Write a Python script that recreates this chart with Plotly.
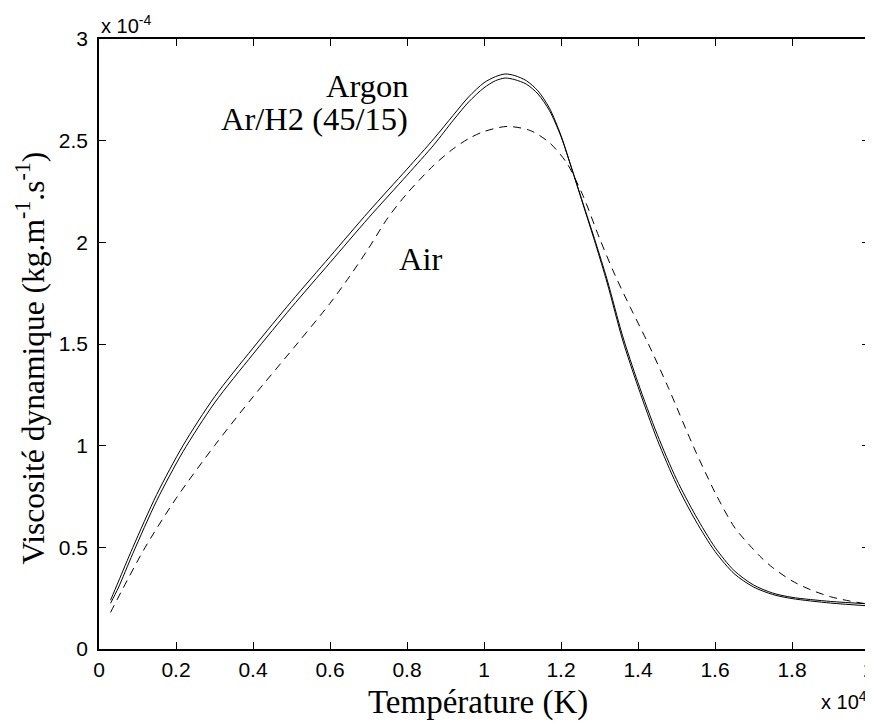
import plotly.graph_objects as go

# Temperature in units of 1e4 K, viscosity in units of 1e-4 kg/m/s
argon_T = [0.03, 0.05, 0.088, 0.15, 0.218, 0.30, 0.40, 0.50, 0.60, 0.70, 0.80, 0.87,
           0.92, 0.96, 1.00, 1.03, 1.055, 1.08, 1.11, 1.14, 1.17, 1.20, 1.23, 1.26,
           1.29, 1.32, 1.36, 1.40, 1.45, 1.50, 1.55, 1.60, 1.65, 1.70, 1.75, 1.80,
           1.90, 2.00]
argon_mu = [0.24, 0.33, 0.50, 0.76, 1.00, 1.24, 1.48, 1.71, 1.93, 2.15, 2.36, 2.51,
            2.625, 2.715, 2.785, 2.815, 2.828, 2.82, 2.795, 2.745, 2.66, 2.525, 2.35, 2.17,
            1.99, 1.80, 1.52, 1.29, 1.03, 0.81, 0.63, 0.48, 0.37, 0.305, 0.268, 0.248,
            0.226, 0.212]

arh2_T = argon_T
arh2_mu = [0.225, 0.30, 0.47, 0.73, 0.97, 1.21, 1.45, 1.68, 1.90, 2.12, 2.33, 2.48,
           2.60, 2.69, 2.76, 2.795, 2.808, 2.80, 2.778, 2.73, 2.648, 2.52, 2.35, 2.175,
           2.00, 1.815, 1.54, 1.31, 1.055, 0.835, 0.655, 0.50, 0.385, 0.315, 0.275, 0.254,
           0.234, 0.222]

air_T = [0.03, 0.06, 0.12, 0.20, 0.30, 0.40, 0.514, 0.60, 0.65, 0.70, 0.75, 0.80,
         0.87, 0.92, 0.96, 1.00, 1.06, 1.12, 1.17, 1.215, 1.257, 1.30, 1.34, 1.38,
         1.427, 1.48, 1.543, 1.60, 1.65, 1.69, 1.72, 1.75, 1.80, 1.85, 1.90, 1.95,
         2.00]
air_mu = [0.18, 0.29, 0.50, 0.74, 1.00, 1.24, 1.50, 1.70, 1.83, 1.97, 2.12, 2.24,
          2.38, 2.46, 2.51, 2.545, 2.57, 2.55, 2.49, 2.39, 2.23, 2.02, 1.84, 1.68,
          1.50, 1.28, 1.00, 0.77, 0.60, 0.51, 0.45, 0.40, 0.335, 0.29, 0.257, 0.236,
          0.22]

labels = ["Argon", "Ar/H2 (45/15)", "Air"]

serif = "Liberation Serif, Times New Roman, serif"
sans = "Liberation Sans, Arial, sans-serif"

fig = go.Figure()

fig.add_trace(go.Scatter(x=argon_T, y=argon_mu, mode='lines', name=labels[0],
                         line=dict(color='black', width=1, shape='spline', smoothing=0.8)))
fig.add_trace(go.Scatter(x=arh2_T, y=arh2_mu, mode='lines', name=labels[1],
                         line=dict(color='black', width=1, shape='spline', smoothing=0.8)))
fig.add_trace(go.Scatter(x=air_T, y=air_mu, mode='lines', name=labels[2],
                         line=dict(color='black', width=1, shape='spline', smoothing=0.8,
                                   dash='8px,6px')))

axis_style = dict(
    showgrid=False, zeroline=False, showline=True, linecolor='black', linewidth=1.5,
    mirror='ticks', ticks='inside', ticklen=7, tickwidth=1, tickcolor='black',
    tickfont=dict(family=sans, size=21, color='black'), automargin=False,
    ticklabeloverflow='allow',
)

fig.update_xaxes(range=[0, 2], dtick=0.2, tick0=0, ticklabelstandoff=1, **axis_style)
fig.update_yaxes(range=[0, 3], dtick=0.5, tick0=0, ticklabelstandoff=5, **axis_style)

# Curve labels
fig.add_annotation(x=0.808, y=2.77, text=labels[0], showarrow=False,
                   xanchor='right', yanchor='middle', font=dict(family=serif, size=32.5, color='black'))
fig.add_annotation(x=0.808, y=2.607, text=labels[1], showarrow=False,
                   xanchor='right', yanchor='middle', font=dict(family=serif, size=32.5, color='black'))
fig.add_annotation(x=0.836, y=1.918, text=labels[2], showarrow=False,
                   xanchor='center', yanchor='middle', font=dict(family=serif, size=32.5, color='black'))

# Axis titles and multipliers
fig.add_annotation(xref='paper', yref='paper', x=0.492, y=-0.088, text="Température (K)",
                   showarrow=False, xanchor='center', yanchor='middle',
                   font=dict(family=serif, size=33, color='black'))
fig.add_annotation(xref='paper', yref='paper', x=-0.089, y=0.477,
                   text="Viscosité dynamique (kg.m<sup>-1</sup>.s<sup>-1</sup>)",
                   showarrow=False, textangle=-90, xanchor='center', yanchor='middle',
                   font=dict(family=serif, size=31.5, color='black'))
fig.add_annotation(xref='paper', yref='paper', x=0.0, y=1.0, text="x 10<sup>-4</sup>",
                   showarrow=False, xanchor='left', yanchor='bottom',
                   font=dict(family=sans, size=20, color='black'))
fig.add_annotation(xref='paper', yref='paper', x=1.0, y=-0.085, text="x 10<sup>4</sup>",
                   showarrow=False, xanchor='right', yanchor='middle',
                   font=dict(family=sans, size=20, color='black'))

# page body has an 8px default margin, so the figure is sized to fit inside it
fig.update_layout(
    template='none',
    width=865, height=719,
    margin=dict(l=91, r=4, t=31, b=78),
    paper_bgcolor='white', plot_bgcolor='white',
    showlegend=False,
)

fig.write_html("out.html")
